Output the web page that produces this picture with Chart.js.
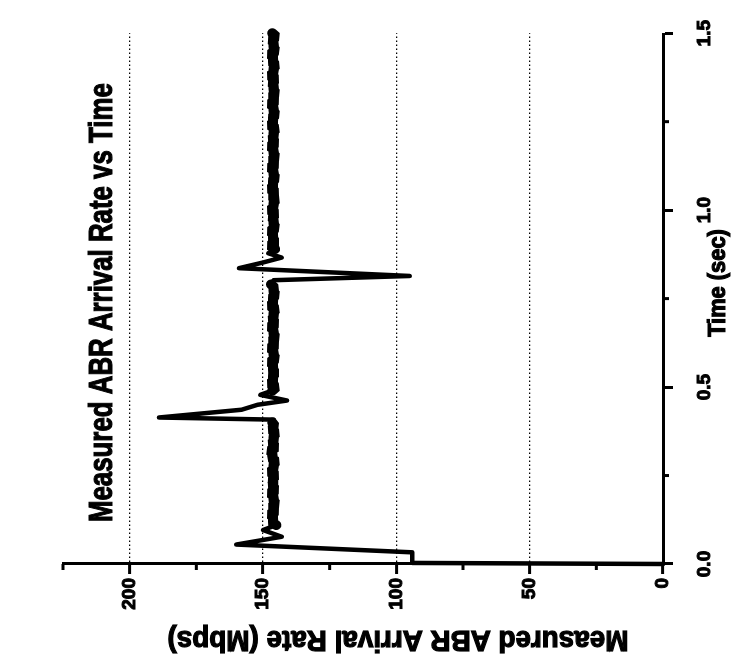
<!DOCTYPE html>
<html>
<head>
<meta charset="utf-8">
<script src="https://cdn.jsdelivr.net/npm/chart.js@4.4.1/dist/chart.umd.min.js"></script>
<style>
html, body { margin: 0; padding: 0; background: #fff; overflow: hidden; }
#wrap {
    position: absolute; left: 0; top: 0;
    width: 658px; height: 753px;
    transform-origin: 0 0;
    transform: translateY(658px) rotate(-90deg);
}
</style>
</head>
<body>
<div id="wrap"><canvas id="chart" width="658" height="753"></canvas></div>
<script>
// time (sec) and measured rate (Mbps)
var startTimes = [0, 0.003, 0.033, 0.055, 0.077, 0.096];
var startRates = [0, 94, 94, 160, 143, 150];

var band1Times = [0.11, 0.12, 0.13, 0.14, 0.15, 0.16, 0.17, 0.18, 0.19, 0.20,
                  0.21, 0.22, 0.23, 0.24, 0.25, 0.26, 0.27, 0.28, 0.29, 0.30,
                  0.31, 0.32, 0.33, 0.34, 0.35, 0.36, 0.37, 0.38, 0.39, 0.40];
var band1Rates = [145, 147, 145.5, 147.5, 145, 147, 145, 146.5, 145.5, 147.5,
                  145, 147, 145.5, 147, 145, 147.5, 145.5, 146.5, 145, 147,
                  146, 147.5, 145, 147, 145.5, 146.5, 145, 147, 145.5, 146.5];

var spike1Times = [0.408, 0.414, 0.436, 0.450, 0.462, 0.478];
var spike1Rates = [146, 189, 158, 152, 141, 151];

var band2Times = [0.49, 0.50, 0.51, 0.52, 0.53, 0.54, 0.55, 0.56, 0.57, 0.58,
                  0.59, 0.60, 0.61, 0.62, 0.63, 0.64, 0.65, 0.66, 0.67, 0.68,
                  0.69, 0.70, 0.71, 0.72, 0.73, 0.74, 0.75, 0.76, 0.77, 0.78, 0.79];
var band2Rates = [146.5, 145, 147.5, 145.5, 147, 145, 147, 145.5, 147.5, 145,
                  146.5, 145.5, 147.5, 145, 147, 145, 146.5, 145.5, 147.5, 145,
                  147, 145.5, 146.5, 145, 147.5, 145.5, 147, 145, 146.5, 145.5, 147];

var spike2Times = [0.802, 0.814, 0.836, 0.852, 0.866, 0.878];
var spike2Rates = [146, 95, 159, 150, 143, 148];

var band3Times = [0.89, 0.90, 0.91, 0.92, 0.93, 0.94, 0.95, 0.96, 0.97, 0.98,
                  0.99, 1.00, 1.01, 1.02, 1.03, 1.04, 1.05, 1.06, 1.07, 1.08,
                  1.09, 1.10, 1.11, 1.12, 1.13, 1.14, 1.15, 1.16, 1.17, 1.18,
                  1.19, 1.20, 1.21, 1.22, 1.23, 1.24, 1.25, 1.26, 1.27, 1.28,
                  1.29, 1.30, 1.31, 1.32, 1.33, 1.34, 1.35, 1.36, 1.37, 1.38,
                  1.39, 1.40, 1.41, 1.42, 1.43, 1.44, 1.45, 1.46, 1.47, 1.48,
                  1.49, 1.50];
var band3Rates = [145.5, 147.5, 145, 147, 145.5, 147.5, 145, 146.5, 145.5, 147,
                  145, 147.5, 145.5, 146.5, 145, 147, 145, 147.5, 145.5, 147,
                  145, 146.5, 145.5, 147.5, 145, 147, 145, 146.5, 145.5, 147.5,
                  145, 147, 145.5, 146.5, 145, 147.5, 145.5, 147, 145, 146.5,
                  145.5, 147.5, 145, 147, 145, 146.5, 145.5, 147, 145, 147.5,
                  145.5, 146.5, 145, 147, 145.5, 147.5, 145, 146.5, 145.5, 147,
                  145, 146.5];

var timeTicks = [0, 0.5, 1.0, 1.5];
var minorTimeTicks = [0.25, 0.75, 1.25];
var rateTicks = [0, 50, 100, 150, 200];
var minorRateTicks = [25, 75, 125, 175, 225];

var FONT = "'Liberation Sans', Arial, sans-serif";

function pts(ts, rs) {
    return ts.map(function (t, i) { return {x: t, y: rs[i]}; });
}
function first(ts, rs) { return pts(ts, rs).slice(0, 1); }
function last(ts, rs) { return pts(ts, rs).slice(-1); }

// the dense noisy band is drawn thicker than the jumps between bands
var series = [
    {data: pts(startTimes, startRates).concat(first(band1Times, band1Rates)), band: false},
    {data: pts(band1Times, band1Rates), band: true},
    {data: last(band1Times, band1Rates).concat(pts(spike1Times, spike1Rates), first(band2Times, band2Rates)), band: false},
    {data: pts(band2Times, band2Rates), band: true},
    {data: last(band2Times, band2Rates).concat(pts(spike2Times, spike2Rates), first(band3Times, band3Rates)), band: false},
    {data: pts(band3Times, band3Rates), band: true}
];

// short minor ticks on both axes
var minorTicks = {
    id: 'minorTicks',
    afterDraw: function (chart) {
        var ctx = chart.ctx, area = chart.chartArea;
        var xs = chart.scales.x, ys = chart.scales.y;
        ctx.save();
        ctx.strokeStyle = '#000';
        ctx.lineWidth = 3;
        minorTimeTicks.forEach(function (v) {
            var px = xs.getPixelForValue(v);
            ctx.beginPath();
            ctx.moveTo(px, area.bottom);
            ctx.lineTo(px, area.bottom + 6);
            ctx.stroke();
        });
        minorRateTicks.forEach(function (v) {
            var py = ys.getPixelForValue(v);
            ctx.beginPath();
            ctx.moveTo(area.left, py);
            ctx.lineTo(area.left - 6, py);
            ctx.stroke();
        });
        ctx.restore();
    }
};

function boldText(ctx, text, x, y, rot, sx, size) {
    ctx.save();
    ctx.translate(x, y);
    ctx.rotate(rot);
    ctx.scale(sx, 1);
    ctx.font = 'bold ' + size + 'px ' + FONT;
    ctx.textAlign = 'center';
    ctx.textBaseline = 'middle';
    ctx.fillStyle = '#000';
    ctx.strokeStyle = '#000';
    ctx.lineWidth = 1.2;
    ctx.fillText(text, 0, 0);
    ctx.strokeText(text, 0, 0);
    ctx.restore();
}

// title sits inside the plot area in the scan; axis titles are off-centre
var texts = {
    id: 'texts',
    afterDraw: function (chart) {
        var ctx = chart.ctx, area = chart.chartArea;
        boldText(ctx, 'Measured ABR Arrival Rate vs Time', (area.left + area.right) / 2 - 4, 103, 0, 0.76, 34);
        boldText(ctx, 'Measured ABR Arrival Rate (Mbps)', 19, 398, -Math.PI / 2, 0.96, 29);
        boldText(ctx, 'Time (sec)', 375, 719, 0, 0.95, 23);
    }
};

var ctx = document.getElementById('chart');
new Chart(ctx, {
    type: 'scatter',
    data: {
        datasets: series.map(function (s) {
            return {
                data: s.data,
                showLine: true,
                borderColor: '#000',
                backgroundColor: '#000',
                borderWidth: s.band ? 10 : 4.5,
                pointRadius: 0,
                borderJoinStyle: s.band ? 'bevel' : 'round',
                borderCapStyle: 'round',
                clip: false
            };
        })
    },
    plugins: [minorTicks, texts],
    options: {
        responsive: false,
        animation: false,
        layout: {
            padding: {top: 63, right: 18, left: 0, bottom: 0}
        },
        plugins: {
            legend: {display: false},
            tooltip: {enabled: false},
            title: {display: false}
        },
        scales: {
            x: {
                type: 'linear',
                min: 0,
                max: 1.5,
                afterFit: function (scale) { scale.height = 90; },
                afterBuildTicks: function (scale) {
                    scale.ticks = timeTicks.map(function (v) { return {value: v}; });
                },
                ticks: {
                    autoSkip: false,
                    maxRotation: 0,
                    padding: 20,
                    color: '#000',
                    textStrokeColor: '#000',
                    textStrokeWidth: 1,
                    font: {family: FONT, size: 19, weight: 'bold'},
                    callback: function (v) { return Number(v).toFixed(1); }
                },
                grid: {
                    drawOnChartArea: false,
                    tickLength: 10,
                    tickWidth: 3,
                    tickColor: '#000'
                },
                border: {color: '#000', width: 3}
            },
            y: {
                type: 'linear',
                min: 0,
                max: 225,
                afterFit: function (scale) { scale.width = 94; },
                afterBuildTicks: function (scale) {
                    scale.ticks = rateTicks.map(function (v) { return {value: v}; });
                },
                ticks: {
                    padding: 4,
                    color: '#000',
                    textStrokeColor: '#000',
                    textStrokeWidth: 1,
                    font: {family: FONT, size: 19, weight: 'bold'}
                },
                grid: {
                    color: function (c) { return c.tick && c.tick.value === 0 ? 'rgba(0,0,0,0)' : '#000'; },
                    lineWidth: 1.2,
                    tickLength: 10,
                    tickWidth: 3,
                    tickColor: '#000'
                },
                border: {color: '#000', width: 3, dash: [1.5, 2.5]}
            }
        }
    }
});
</script>
</body>
</html>
